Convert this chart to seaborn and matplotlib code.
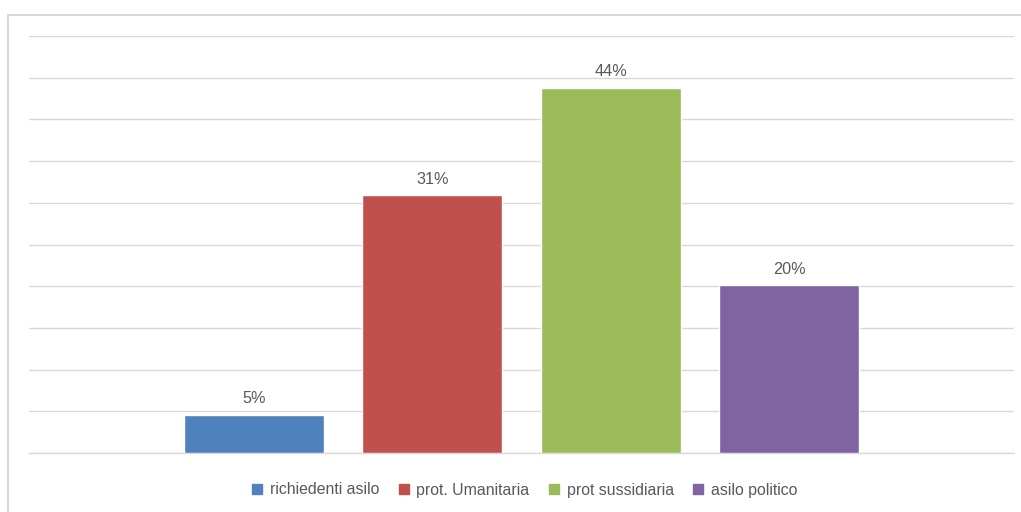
import matplotlib
matplotlib.use("Agg")
import matplotlib.pyplot as plt
import seaborn as sns
import pandas as pd
from matplotlib.patches import Rectangle
from matplotlib.lines import Line2D

categories = ["richiedenti asilo", "prot. Umanitaria", "prot sussidiaria", "asilo politico"]
values = [4.6, 30.9, 43.8, 20.1]
colors = ["#4F81BD", "#C0504D", "#9BBB59", "#8064A2"]
yticks = [0, 5, 10, 15, 20, 25, 30, 35, 40, 45, 50]

sns.set_theme(style="white")
plt.rcParams['font.family'] = ['Liberation Sans', 'DejaVu Sans']

df = pd.DataFrame({"cat": categories, "val": values})

fig = plt.figure(figsize=(10.21, 5.12), dpi=100)
ax = fig.add_axes([29/1021, (512-453)/512, (1014-29)/1021, (453-36)/512])

sns.barplot(data=df, x="cat", y="val", hue="cat", palette=colors, width=0.784,
            order=categories, hue_order=categories, legend=False, ax=ax,
            saturation=1, zorder=3)

ax.set_xlim(-1.26, 3 + 1.26)
ax.set_ylim(0, 50)
ax.set_yticks(yticks)
ax.yaxis.grid(True, color="#d9d9d9", linewidth=1)
ax.set_axisbelow(True)
ax.set_yticklabels([])
ax.set_xticks([])
ax.set_xlabel("")
ax.set_ylabel("")
for s in ["top", "right", "left"]:
    ax.spines[s].set_visible(False)
ax.spines["bottom"].set_color("#d9d9d9")
ax.spines["bottom"].set_linewidth(1)
ax.tick_params(length=0)

for i, v in enumerate(values):
    ax.annotate(f"{v:.0f}%", (i, v), xytext=(0, 6), textcoords="offset points",
                ha="center", va="bottom", fontsize=11.7, color="#595959")

handles = [Line2D([], [], marker="s", linestyle="none", markersize=7,
                  markerfacecolor=c, markeredgecolor=c) for c in colors]
fig.legend(handles, categories, loc="center", bbox_to_anchor=(525/1021, (512-490)/512),
           ncol=4, frameon=False, fontsize=11.4, handlelength=0.6, handletextpad=0.5,
           columnspacing=1.25, labelcolor="#595959")

fig.patches.append(Rectangle((8/1021, -0.1), 1.2, (512-15)/512 + 0.1, transform=fig.transFigure,
                             fill=False, edgecolor="#d9d9d9", linewidth=1.5, zorder=0))

fig.savefig("out.png", dpi=100)
